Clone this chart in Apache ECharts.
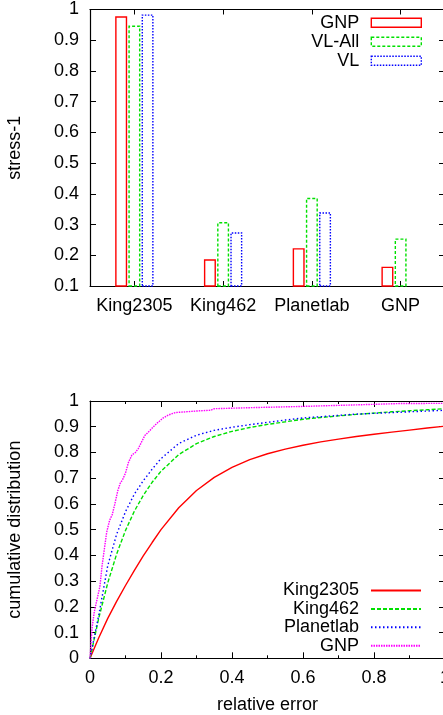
<!DOCTYPE html>
<html>
<head>
<meta charset="utf-8">
<script src="https://cdn.jsdelivr.net/npm/echarts@6/dist/echarts.min.js"></script>
<style>
  html, body { margin: 0; padding: 0; background: #ffffff; }
  #chart { width: 443px; height: 715px; }
</style>
</head>
<body>
<div id="chart"></div>
<script>
// ---- Top panel: stress-1 per data set ----
const datasets = ['King2305', 'King462', 'Planetlab', 'GNP'];
const gnpStress = [0.978, 0.187, 0.223, 0.163];
const vlAllStress = [0.948, 0.308, 0.387, 0.255];
const vlStress = [0.984, 0.275, 0.340, null];
const stressTicks = { min: 0.1, max: 1, step: 0.1 };

// ---- Bottom panel: CDF of relative error ----
const errGrid = [0, 0.025, 0.05, 0.075, 0.1, 0.125, 0.15, 0.175, 0.2, 0.25, 0.3, 0.35, 0.4, 0.45, 0.5, 0.55, 0.6, 0.65, 0.7, 0.75, 0.8, 0.85, 0.9, 0.95, 1.0];
const king2305Cdf = [0, 0.081, 0.155, 0.221, 0.283, 0.342, 0.398, 0.45, 0.5, 0.585, 0.652, 0.703, 0.742, 0.772, 0.795, 0.813, 0.828, 0.841, 0.852, 0.862, 0.871, 0.879, 0.887, 0.895, 0.902];
const king462Cdf = [0, 0.158, 0.293, 0.405, 0.497, 0.572, 0.633, 0.684, 0.727, 0.792, 0.834, 0.862, 0.882, 0.897, 0.909, 0.919, 0.929, 0.936, 0.942, 0.948, 0.953, 0.958, 0.962, 0.966, 0.970];
const planetlabCdf = [0, 0.17, 0.36, 0.482, 0.57, 0.638, 0.69, 0.735, 0.776, 0.835, 0.867, 0.886, 0.898, 0.908, 0.917, 0.926, 0.934, 0.939, 0.944, 0.949, 0.952, 0.955, 0.958, 0.961, 0.964];
const gnpErr = [0, 0.003, 0.006, 0.012, 0.02, 0.028, 0.034, 0.04, 0.047, 0.055, 0.063, 0.07, 0.078, 0.085, 0.092, 0.1, 0.108, 0.118, 0.128, 0.136, 0.145, 0.155, 0.165, 0.178, 0.19, 0.206, 0.22, 0.24, 0.27, 0.31, 0.34, 0.35, 0.45, 0.6, 0.75, 0.87, 1.0];
const gnpCdf = [0, 0.06, 0.12, 0.18, 0.23, 0.28, 0.36, 0.42, 0.49, 0.535, 0.56, 0.6, 0.65, 0.68, 0.695, 0.72, 0.76, 0.79, 0.80, 0.815, 0.84, 0.867, 0.88, 0.899, 0.915, 0.934, 0.945, 0.955, 0.958, 0.962, 0.964, 0.970, 0.974, 0.979, 0.985, 0.99, 0.991];

const FONT = '"Liberation Sans", Arial, Helvetica, sans-serif';
const INK = '#000000';
const RED = '#ff0000', GREEN = '#00e000', BLUE = '#0000ff', MAGENTA = '#ff00ff';

const pairs = (xs, ys) => xs.map((x, i) => [x, ys[i]]);

const axisLine = { show: true, onZero: false, lineStyle: { color: INK, width: 1.2 } };
const tickLabel = { color: INK, fontSize: 18, fontFamily: FONT };

function mirrorValueAxis(extra) {
  return Object.assign({
    type: 'value', axisLine: axisLine,
    axisTick: { show: true, inside: true, length: 6, lineStyle: { color: INK } },
    axisLabel: { show: false }, splitLine: { show: false }
  }, extra);
}

const barOutline = (color, dash) => ({
  color: 'rgba(0,0,0,0)', borderColor: color, borderWidth: 1.4, borderType: dash
});

const chart = echarts.init(document.getElementById('chart'), null, { renderer: 'canvas' });

chart.setOption({
  animation: false,
  backgroundColor: '#ffffff',
  textStyle: { fontFamily: FONT },
  grid: [
    { left: 90, top: 9.5, width: 355, height: 276.5, containLabel: false, outerBoundsMode: 'none' },
    { left: 90, top: 401, width: 355, height: 257.3, containLabel: false, outerBoundsMode: 'none' }
  ],
  xAxis: [
    {
      type: 'category', gridIndex: 0, position: 'bottom', data: datasets,
      axisLine: axisLine,
      axisTick: { show: true, inside: true, alignWithLabel: true, length: 5, lineStyle: { color: INK } },
      axisLabel: Object.assign({ margin: 11, interval: 0 }, tickLabel)
    },
    {
      type: 'category', gridIndex: 0, position: 'top', data: datasets,
      axisLine: axisLine,
      axisTick: { show: true, inside: true, alignWithLabel: true, length: 5, lineStyle: { color: INK } },
      axisLabel: { show: false }
    },
    {
      type: 'value', gridIndex: 1, position: 'bottom', min: 0, max: 1, interval: 0.2,
      name: 'relative error', nameLocation: 'middle', nameGap: 38,
      nameTextStyle: { color: INK, fontSize: 18, fontFamily: FONT },
      axisLine: axisLine,
      axisTick: { show: true, inside: true, length: 6, lineStyle: { color: INK } },
      minorTick: { show: true, splitNumber: 2, length: 3, lineStyle: { color: INK } },
      axisLabel: Object.assign({ margin: 11 }, tickLabel),
      splitLine: { show: false }
    },
    mirrorValueAxis({
      gridIndex: 1, position: 'top', min: 0, max: 1, interval: 0.2,
      minorTick: { show: true, splitNumber: 2, length: 3, lineStyle: { color: INK } }
    })
  ],
  yAxis: [
    {
      type: 'value', gridIndex: 0, position: 'left',
      min: stressTicks.min, max: stressTicks.max, interval: stressTicks.step,
      name: 'stress-1', nameLocation: 'middle', nameGap: 66,
      nameTextStyle: { color: INK, fontSize: 18, fontFamily: FONT },
      axisLine: axisLine,
      axisTick: { show: true, inside: true, length: 6, lineStyle: { color: INK } },
      axisLabel: Object.assign({ margin: 11 }, tickLabel),
      splitLine: { show: false }
    },
    mirrorValueAxis({
      gridIndex: 0, position: 'right',
      min: stressTicks.min, max: stressTicks.max, interval: stressTicks.step
    }),
    {
      type: 'value', gridIndex: 1, position: 'left', min: 0, max: 1, interval: 0.1,
      name: 'cumulative distribution', nameLocation: 'middle', nameGap: 66,
      nameTextStyle: { color: INK, fontSize: 18, fontFamily: FONT },
      axisLine: axisLine,
      axisTick: { show: true, inside: true, length: 6, lineStyle: { color: INK } },
      axisLabel: Object.assign({ margin: 11 }, tickLabel),
      splitLine: { show: false }
    },
    mirrorValueAxis({ gridIndex: 1, position: 'right', min: 0, max: 1, interval: 0.1 })
  ],
  legend: [
    {
      orient: 'vertical', align: 'right', right: 21, top: 13.7, padding: 0,
      itemWidth: 50, itemHeight: 9, itemGap: 1, icon: 'rect',
      selectedMode: false,
      textStyle: { color: INK, fontSize: 18, fontFamily: FONT, padding: [0, 7, 0, 0] },
      data: [
        { name: 'GNP', itemStyle: barOutline(RED, 'solid') },
        { name: 'VL-All', itemStyle: barOutline(GREEN, [3, 2]) },
        { name: 'VL', itemStyle: barOutline(BLUE, [1.5, 1.5]) }
      ]
    },
    {
      orient: 'vertical', align: 'right', right: 21, top: 581.5, padding: 0,
      itemWidth: 50, itemHeight: 9, itemGap: 0.4,
      selectedMode: false,
      formatter: (name) => name.trim(),
      itemStyle: { opacity: 0 },
      textStyle: { color: INK, fontSize: 18, fontFamily: FONT, padding: [0, 7, 0, 0] },
      data: ['King2305', 'King462', 'Planetlab', 'GNP ']
    }
  ],
  series: [
    {
      name: 'GNP', type: 'bar', xAxisIndex: 0, yAxisIndex: 0,
      data: gnpStress, barWidth: 12, barGap: '10%',
      itemStyle: barOutline(RED, 'solid'), emphasis: { disabled: true }
    },
    {
      name: 'VL-All', type: 'bar', xAxisIndex: 0, yAxisIndex: 0,
      data: vlAllStress, barWidth: 12, barGap: '10%',
      itemStyle: barOutline(GREEN, [3, 2]), emphasis: { disabled: true }
    },
    {
      name: 'VL', type: 'bar', xAxisIndex: 0, yAxisIndex: 0,
      data: vlStress, barWidth: 12, barGap: '10%',
      itemStyle: barOutline(BLUE, [1.5, 1.5]), emphasis: { disabled: true }
    },
    {
      name: 'King2305', type: 'line', xAxisIndex: 2, yAxisIndex: 2,
      data: pairs(errGrid, king2305Cdf), symbol: 'none',
      lineStyle: { color: RED, width: 1.4, type: 'solid' }, itemStyle: { color: RED },
      emphasis: { disabled: true }
    },
    {
      name: 'King462', type: 'line', xAxisIndex: 2, yAxisIndex: 2,
      data: pairs(errGrid, king462Cdf), symbol: 'none',
      lineStyle: { color: GREEN, width: 1.4, type: [4, 2] }, itemStyle: { color: GREEN },
      emphasis: { disabled: true }
    },
    {
      name: 'Planetlab', type: 'line', xAxisIndex: 2, yAxisIndex: 2,
      data: pairs(errGrid, planetlabCdf), symbol: 'none',
      lineStyle: { color: BLUE, width: 1.4, type: [1.5, 2.5] }, itemStyle: { color: BLUE },
      emphasis: { disabled: true }
    },
    {
      name: 'GNP ', type: 'line', xAxisIndex: 2, yAxisIndex: 2,
      data: pairs(gnpErr, gnpCdf), symbol: 'none',
      lineStyle: { color: MAGENTA, width: 1.4, type: [1.5, 1] }, itemStyle: { color: MAGENTA },
      emphasis: { disabled: true }
    }
  ]
});
</script>
</body>
</html>
